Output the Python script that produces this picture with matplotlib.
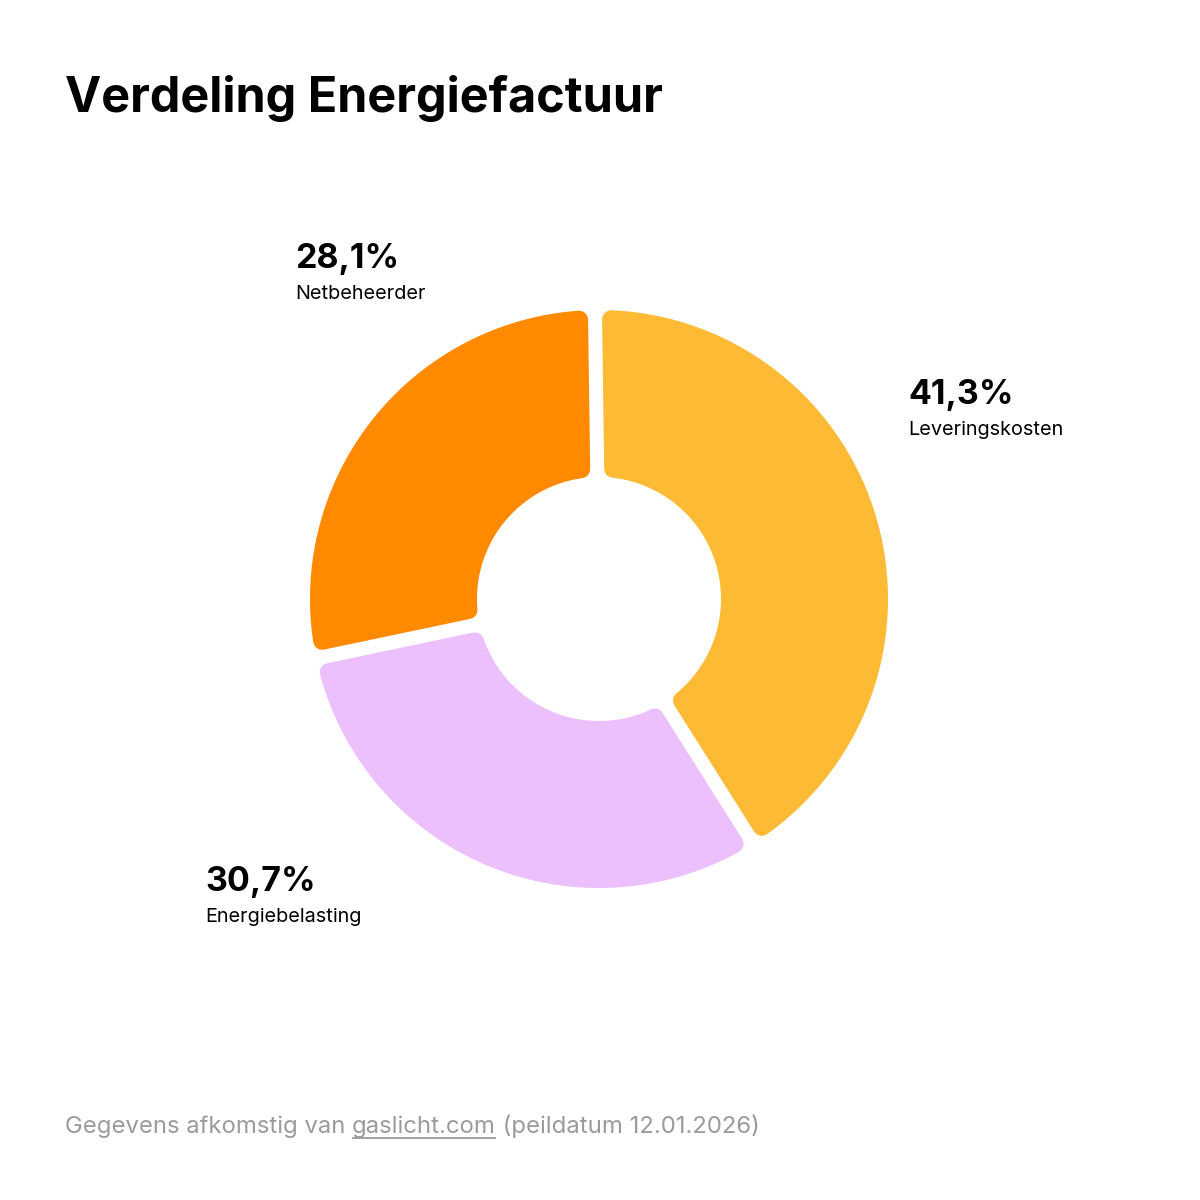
import numpy as np
import matplotlib
matplotlib.use("Agg")
import matplotlib.pyplot as plt
from matplotlib.patches import Polygon

# ---- data ----
categories = ["Leveringskosten", "Energiebelasting", "Netbeheerder"]
values = [41.3, 30.7, 28.1]
value_labels = ["41,3%", "30,7%", "28,1%"]
colors = ["#FDBA35", "#EBC0FD", "#FF8A00"]
title = "Verdeling Energiefactuur"
footer_parts = ["Gegevens afkomstig van ", "gaslicht.com", " (peildatum 12.01.2026)"]

# ---- layout (pixels) ----
W = H = 1200
cx, cy = 599, 599
R_out, R_in = 289, 122
gap = 14
corner = 9
label_pos = {"Leveringskosten": (908, 404), "Energiebelasting": (205, 891), "Netbeheerder": (295, 268)}

FONT = "Inter"

fig = plt.figure(figsize=(12, 12), dpi=100)
ax = fig.add_axes([0, 0, 1, 1])
ax.set_xlim(0, W)
ax.set_ylim(H, 0)
ax.axis("off")

def pt(r, th):
    return (cx + r * np.cos(th), cy - r * np.sin(th))

total = sum(values)
d = gap / 2 + corner
ro = R_out - corner
ri = R_in + corner
start = 90.8
cum = 0.0
for cat, v, col in zip(categories, values, colors):
    th_s = np.deg2rad(start - 360 * cum / total)
    cum += v
    th_e = np.deg2rad(start - 360 * cum / total)
    do = np.arcsin(d / ro)
    di = np.arcsin(d / ri)
    outer = np.linspace(th_s - do, th_e + do, 200)
    inner = np.linspace(th_e + di, th_s - di, 120)
    pts = [pt(ro, t) for t in outer] + [pt(ri, t) for t in inner]
    ax.add_patch(Polygon(pts, closed=True, fc=col, ec=col,
                         lw=2 * corner * 72 / 100, joinstyle="round"))

# labels
for cat, lab in zip(categories, value_labels):
    x, y = label_pos[cat]
    ax.text(x, y, lab, fontsize=24.5, fontweight="bold", family=FONT,
            color="#000000", va="baseline", ha="left")
    ax.text(x, y + 31, cat, fontsize=14.3, family=FONT,
            color="#000000", va="baseline", ha="left")

# title
ax.text(65, 112, title, fontsize=35, fontweight="bold", family=FONT,
        color="#000000", va="baseline", ha="left")

# footer with underlined link
fig.canvas.draw()
renderer = fig.canvas.get_renderer()
x = 65
yb = 1133
for i, part in enumerate(footer_parts):
    t = ax.text(x, yb, part, fontsize=17.2, family=FONT, color="#9B9B9B",
                va="baseline", ha="left")
    bb = t.get_window_extent(renderer=renderer)
    w = bb.width
    if i == 1:
        ax.plot([x, x + w], [yb + 5, yb + 5], color="#9B9B9B", lw=1.3,
                solid_capstyle="butt")
    x = x + w

fig.savefig("out.png", dpi=100, facecolor="white")
